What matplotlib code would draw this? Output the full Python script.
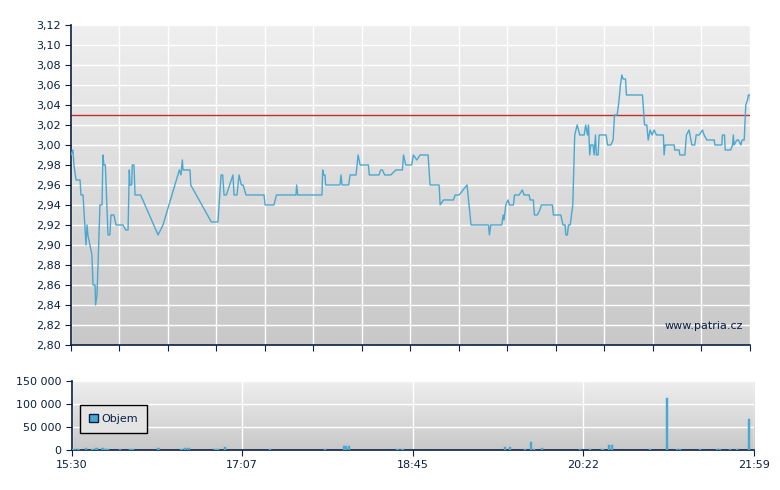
import numpy as np
import matplotlib.pyplot as plt
from matplotlib.patches import Patch

# minutes since 15:30
t1 = [0, 1.1, 1.7, 2.9, 5.2, 5.7, 6.9, 8.6, 9.2, 9.7, 12.0, 12.6, 13.8, 14.1, 14.9, 15.5, 16.6, 17.8,
      18.3, 18.9, 19.7, 21.2, 22.3, 22.9, 24.6, 25.8, 29.8, 31.3, 32.7, 33.4, 33.8, 34.8, 35.1, 36.1,
      36.7, 39.9, 49.9, 52.7, 62.1, 63.0, 63.8, 64.2, 68.2, 68.6, 80.4, 84.2, 86.0, 86.9, 87.7, 89.0,
      92.8, 93.4, 95.1, 96.3, 97.6, 98.6, 100.3, 110.6, 111.2, 116.3, 117.7, 128.9, 129.3, 129.9,
      143.8, 144.2, 144.8, 145.5, 145.9, 154.1, 154.7, 155.3, 159.1, 159.9, 163.3, 164.5, 165.6,
      170.4, 170.9, 176.5, 177.4, 178.4, 179.7]
p1 = [2.99, 2.995, 2.98, 2.965, 2.965, 2.95, 2.95, 2.90, 2.92, 2.91, 2.89, 2.86, 2.86, 2.84, 2.85, 2.88,
      2.94, 2.94, 2.99, 2.98, 2.98, 2.91, 2.91, 2.93, 2.93, 2.92, 2.92, 2.915, 2.915, 2.975, 2.96, 2.96,
      2.98, 2.98, 2.95, 2.95, 2.91, 2.92, 2.975, 2.97, 2.985, 2.975, 2.975, 2.96, 2.923, 2.923, 2.97,
      2.97, 2.95, 2.95, 2.97, 2.95, 2.95, 2.97, 2.96, 2.96, 2.95, 2.95, 2.94, 2.94, 2.95, 2.95, 2.96,
      2.95, 2.95, 2.975, 2.97, 2.97, 2.96, 2.96, 2.97, 2.96, 2.96, 2.97, 2.97, 2.99, 2.98, 2.98, 2.97,
      2.97, 2.975, 2.975, 2.97]
# second half, minutes after 18:33
T2_START = 183.2
t2 = [0, 2.9, 6.7, 7.3, 8.6, 12.0, 13.0, 14.9, 16.8, 21.4, 22.5, 27.7, 28.3, 30.2, 35.9, 36.9, 39.2,
      43.7, 46.0, 56.0, 56.5, 57.3, 63.6, 64.4, 64.9, 65.9, 67.2, 68.0, 70.3, 70.9, 73.5, 75.4, 76.4,
      79.3, 79.8, 81.7, 82.3, 84.0, 85.4, 86.3, 92.6, 93.2, 97.4, 98.7, 99.9, 100.3, 101.2, 101.8,
      102.8, 104.3, 105.4, 106.8, 108.3, 110.8, 111.7, 112.7, 113.3, 114.0, 114.6, 115.9, 116.5,
      117.3, 117.8, 118.8, 119.4, 123.4, 124.2, 126.1, 127.4, 128.2, 129.7, 130.5, 131.6, 132.4,
      133.1, 134.5, 135.0, 144.2, 145.4, 146.7, 147.5, 148.6, 149.7, 150.9, 152.2, 153.6, 156.2,
      156.6, 157.2, 162.4, 162.7, 165.2, 165.6, 168.5, 169.4, 170.9, 172.5, 174.2, 175.0, 176.7,
      178.6, 179.5, 181.1, 185.3, 185.7, 189.7, 190.0, 191.2, 191.6, 194.8, 195.8, 196.3, 196.7,
      198.3, 199.2, 200.6, 201.3, 202.5, 203.4, 204.4, 204.9, 205.9, 206.3]
p2 = [2.97, 2.975, 2.975, 2.99, 2.98, 2.98, 2.99, 2.985, 2.99, 2.99, 2.96, 2.96, 2.94, 2.945, 2.945,
      2.95, 2.95, 2.96, 2.92, 2.92, 2.91, 2.92, 2.92, 2.93, 2.925, 2.94, 2.945, 2.94, 2.94, 2.95, 2.95,
      2.955, 2.95, 2.95, 2.945, 2.945, 2.93, 2.93, 2.935, 2.94, 2.94, 2.93, 2.93, 2.92, 2.92, 2.91,
      2.91, 2.92, 2.92, 2.94, 3.01, 3.02, 3.01, 3.01, 3.02, 3.01, 3.02, 2.99, 3.00, 3.00, 2.99, 3.01,
      2.99, 2.99, 3.01, 3.01, 3.00, 3.00, 3.005, 3.03, 3.03, 3.04, 3.06, 3.07, 3.066, 3.066, 3.05,
      3.05, 3.02, 3.02, 3.005, 3.015, 3.01, 3.015, 3.01, 3.01, 3.01, 2.99, 3.00, 3.00, 2.995, 2.995,
      2.99, 2.99, 3.01, 3.015, 3.00, 3.00, 3.01, 3.01, 3.015, 3.01, 3.005, 3.005, 3.00, 3.00, 3.01,
      3.01, 2.995, 2.995, 3.00, 3.01, 3.00, 3.005, 3.005, 3.00, 3.005, 3.005, 3.04, 3.045, 3.05,
      3.05, 3.04]
PREV_CLOSE = 3.03

vol_t = [0.6, 2.0, 4.0, 8.3, 12.0, 14.25, 17.7, 19.1, 20.5, 27.6, 33.3, 34.8, 49.6, 62.7, 64.7, 66.7,
         81.8, 83.2, 87.5, 113.2, 144.6, 155.1, 156.5, 158.0, 185.8, 188.6, 247.1, 250.0, 258.5,
         262.0, 263.6, 268.2, 289.9, 295.6, 302.7, 306.2, 308.2, 329.8, 339.4, 345.3, 346.7, 358.1,
         368.1, 369.5, 375.2, 379.5, 386.0]
vol = [3000, 2500, 3000, 4000, 2500, 5000, 5000, 3000, 3000, 2500, 2500, 2500, 5000, 3000, 5000, 5000,
       2500, 2500, 7000, 2500, 2000, 9500, 9500, 9500, 2000, 2000, 6000, 6000, 2000, 18000, 3000, 5000,
       2000, 2000, 3000, 11000, 11000, 2000, 112500, 3000, 3000, 2500, 3000, 3000, 3000, 2500, 67000]

TOTAL_MIN = 389
X_LABELS = ['15:30', '17:07', '18:45', '20:22', '21:59']

NAVY = '#0a1f44'
LINE = '#4aa8d0'


def style_ax(ax):
    grad = np.linspace(0, 1, 256).reshape(-1, 1)
    ax.imshow(grad, cmap=plt.matplotlib.colors.LinearSegmentedColormap.from_list('g', ['#efefef', '#c8c8c8']),
              aspect='auto', extent=[0, 1, 0, 1], transform=ax.transAxes, zorder=0)
    ax.grid(color='white', linewidth=1, zorder=1)
    for s in ['top', 'right']:
        ax.spines[s].set_visible(False)
    for s in ['left', 'bottom']:
        ax.spines[s].set_color(NAVY)
        ax.spines[s].set_linewidth(1.2)
    ax.tick_params(colors=NAVY, labelcolor=NAVY, labelsize=8, length=4, direction='out')
    ax.set_xlim(0, TOTAL_MIN)


fig = plt.figure(figsize=(7.8, 4.9), dpi=100)
ax = fig.add_axes([0.091, 0.296, 0.8705, 0.653])
style_ax(ax)
t_all = list(t1) + [T2_START + v for v in t2]
p_all = list(p1) + list(p2)
ax.plot(t_all, p_all, color=LINE, linewidth=1, zorder=3)
ax.axhline(PREV_CLOSE, color='#c03030', linewidth=1, zorder=2)
ax.set_ylim(2.80, 3.12)
yt = np.arange(2.80, 3.1201, 0.02)
ax.set_yticks(yt)
ax.set_yticklabels(['{:.2f}'.format(v).replace('.', ',') for v in yt])
ax.set_xticks(np.linspace(0, TOTAL_MIN, 15))
ax.set_xticklabels([])
ax.text(0.99, 0.06, 'www.patria.cz', transform=ax.transAxes, ha='right', va='center',
        fontsize=8, color=NAVY, zorder=4)

bx = fig.add_axes([0.0917, 0.0816, 0.875, 0.141])
style_ax(bx)
bx.bar(vol_t, vol, width=1.3, color=LINE, edgecolor=LINE, linewidth=0.3, zorder=3)
bx.set_ylim(0, 150000)
bx.set_yticks([0, 50000, 100000, 150000])
bx.set_yticklabels(['0', '50 000', '100 000', '150 000'])
bx.set_xticks(np.linspace(0, TOTAL_MIN, 5))
bx.set_xticklabels(X_LABELS)
leg = bx.legend(handles=[Patch(facecolor=LINE, edgecolor=NAVY, label='Objem')], loc='center left',
                bbox_to_anchor=(0.005, 0.45), fancybox=False, fontsize=8, handlelength=0.8,
                handleheight=0.8, handletextpad=0.3, borderpad=0.8, framealpha=1)
leg.get_frame().set_edgecolor('black')
leg.get_frame().set_facecolor('#e4e4e4')
for txt in leg.get_texts():
    txt.set_color(NAVY)

fig.savefig('out.png', dpi=100)
